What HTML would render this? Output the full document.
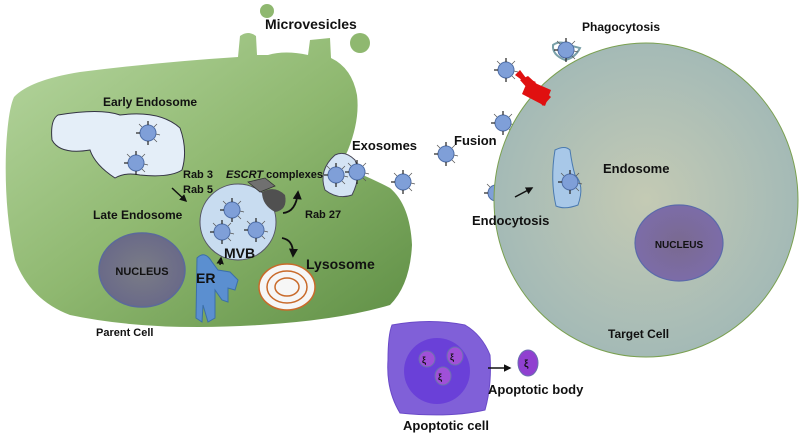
<!DOCTYPE html>
<html><head><meta charset="utf-8"><style>
html,body{margin:0;padding:0;background:#fff}
svg text{font-family:"Liberation Sans",sans-serif;font-weight:bold;fill:#111}
</style></head><body>
<svg width="800" height="435" viewBox="0 0 800 435" xmlns="http://www.w3.org/2000/svg">
<defs>
<linearGradient id="gp" x1="0" y1="0" x2="1" y2="1">
<stop offset="0" stop-color="#b6d6a0"/><stop offset="0.5" stop-color="#8fb870"/><stop offset="1" stop-color="#5f8f45"/></linearGradient>
<radialGradient id="gt" cx="0.5" cy="0.5" r="0.5"><stop offset="0" stop-color="#c4cab4"/><stop offset="1" stop-color="#a4bab6"/></radialGradient>
<radialGradient id="gn" cx="0.5" cy="0.5" r="0.5"><stop offset="0" stop-color="#7a7c86"/><stop offset="1" stop-color="#6a6a88"/></radialGradient>
<radialGradient id="gn2" cx="0.5" cy="0.5" r="0.5"><stop offset="0" stop-color="#7a6a90"/><stop offset="1" stop-color="#7c6ca8"/></radialGradient>
<marker id="ar" viewBox="0 0 10 10" refX="8" refY="5" markerWidth="5" markerHeight="5" orient="auto"><path d="M0,0L10,5L0,10z" fill="#111"/></marker>
<g id="p">
<circle r="8" fill="#7f9fd8" stroke="#4f6fa8" stroke-width="1"/>
<g stroke="#222" stroke-width="1.2"><line x1="0" y1="-8" x2="0" y2="-12"/><line x1="-8" y1="0" x2="-12" y2="0"/><line x1="0" y1="8" x2="0" y2="12"/></g>
<g stroke="#555" stroke-width="0.7"><line x1="6" y1="-6" x2="9" y2="-9"/><line x1="-6" y1="-6" x2="-9" y2="-9"/><line x1="6" y1="6" x2="9" y2="9"/><line x1="8" y1="1" x2="12" y2="2"/></g>
</g>
</defs>
<!-- microvesicles -->
<circle cx="267" cy="11" r="7" fill="#8fb870"/>
<circle cx="360" cy="43" r="10" fill="#8fb870"/>
<!-- parent cell -->
<path d="M14,97 Q30,80 80,72 Q160,62 238,57 L240,36 Q248,30 256,36 L257,55 L268,55 Q285,50 308,55 L310,40 L330,38 L331,58 Q352,68 357,95 Q360,120 348,150 Q342,162 345,168 Q365,175 390,188 Q410,205 412,245 Q410,285 390,305 Q340,320 260,325 Q150,332 70,315 Q30,300 15,260 Q4,210 6,150 Q8,110 14,97 Z" fill="url(#gp)"/>
<!-- early endosome -->
<path d="M58,115 Q100,108 120,115 Q160,110 180,128 Q188,150 182,170 Q170,178 140,175 Q125,172 115,178 Q95,165 90,150 Q60,155 52,140 Q50,120 58,115 Z" fill="#e4eef8" stroke="#334" stroke-width="1"/>
<use href="#p" x="148" y="133"/><use href="#p" x="136" y="163"/>
<!-- MVB -->
<circle cx="238" cy="222" r="38" fill="#c8dcf0" stroke="#556" stroke-width="1"/>
<use href="#p" x="232" y="210"/><use href="#p" x="222" y="232"/><use href="#p" x="256" y="230"/>
<path d="M248,182 L265,178 L275,186 L260,192 Z" fill="#707070" stroke="#333" stroke-width="0.8"/>
<path d="M262,192 Q275,185 285,195 Q288,210 275,212 Q262,205 262,192 Z" fill="#505050"/>
<!-- exosome vesicle -->
<path d="M335,155 Q345,150 355,160 Q362,175 352,195 Q338,200 325,190 Q318,170 335,155 Z" fill="#d4e4f4" stroke="#445" stroke-width="1"/>
<use href="#p" x="336" y="175"/><use href="#p" x="357" y="172"/>
<!-- nucleus parent -->
<ellipse cx="142" cy="270" rx="43" ry="37" fill="url(#gn)" stroke="#5b6a9a" stroke-width="1.5"/>
<text x="142" y="275" text-anchor="middle" font-size="11">NUCLEUS</text>
<!-- ER -->
<path d="M197,258 Q205,250 212,262 L218,270 L230,272 L238,280 L235,290 L228,288 L228,302 L222,300 L215,290 L215,318 L208,322 L203,305 L202,322 L196,318 Z" fill="#5b8fd0" stroke="#3b6fa8" stroke-width="1"/>
<!-- lysosome -->
<ellipse cx="287" cy="287" rx="28" ry="23" fill="#f6f6f6" stroke="#c96a2a" stroke-width="1.5"/>
<ellipse cx="287" cy="287" rx="20" ry="16" fill="none" stroke="#c96a2a" stroke-width="1.5"/>
<ellipse cx="287" cy="287" rx="12" ry="9" fill="none" stroke="#c96a2a" stroke-width="1.5"/>
<!-- arrows -->
<line x1="172" y1="188" x2="186" y2="201" stroke="#111" stroke-width="1.5" marker-end="url(#ar)"/>
<path d="M283,213 Q296,212 298,192" fill="none" stroke="#111" stroke-width="1.8" marker-end="url(#ar)"/>
<path d="M282,238 Q294,240 293,256" fill="none" stroke="#111" stroke-width="1.8" marker-end="url(#ar)"/>
<line x1="220" y1="265" x2="221" y2="258" stroke="#111" stroke-width="1.5" marker-end="url(#ar)"/>
<!-- texts parent -->
<text x="265" y="29" font-size="14">Microvesicles</text>
<text x="103" y="106" font-size="12">Early Endosome</text>
<text x="183" y="178" font-size="11">Rab 3</text>
<text x="183" y="193" font-size="11">Rab 5</text>
<text x="93" y="219" font-size="12">Late Endosome</text>
<text x="226" y="178" font-size="11"><tspan font-style="italic">ESCRT</tspan> complexes</text>
<text x="305" y="218" font-size="11">Rab 27</text>
<text x="224" y="258" font-size="14">MVB</text>
<text x="196" y="283" font-size="14">ER</text>
<text x="306" y="269" font-size="14">Lysosome</text>
<text x="352" y="150" font-size="13">Exosomes</text>
<text x="96" y="336" font-size="11">Parent Cell</text>
<!-- free particles -->
<use href="#p" x="403" y="182"/><use href="#p" x="446" y="154"/><use href="#p" x="503" y="123"/><use href="#p" x="496" y="193"/>
<text x="454" y="145" font-size="13">Fusion</text>
<!-- target cell -->
<ellipse cx="646" cy="200" rx="152" ry="157" fill="url(#gt)" stroke="#7aa050" stroke-width="1"/>
<path d="M553,45 Q560,40 568,45 L580,48 Q575,58 565,60 Q552,55 553,45 Z" fill="none" stroke="#7aa0a8" stroke-width="2"/>
<use href="#p" x="566" y="50"/>
<use href="#p" x="506" y="70"/>
<path d="M515,75 L520,70 L526,78 L536,82 L530,86 Z" fill="#e01010"/>
<path d="M520,80 L528,76 L551,97 L543,106 Z" fill="#e01010"/>
<path d="M528,80 L551,90 L545,106 L522,94 Z" fill="#e01010"/>
<text x="582" y="31" font-size="12">Phagocytosis</text>
<path d="M555,150 Q565,145 570,150 Q572,165 575,175 Q585,185 578,205 Q565,210 556,206 Q550,180 555,150 Z" fill="#a8c8e8" stroke="#4a7ab0" stroke-width="1"/>
<use href="#p" x="570" y="182"/>
<line x1="515" y1="197" x2="532" y2="188" stroke="#111" stroke-width="1.5" marker-end="url(#ar)"/>
<text x="603" y="173" font-size="13">Endosome</text>
<text x="472" y="225" font-size="13">Endocytosis</text>
<ellipse cx="679" cy="243" rx="44" ry="38" fill="url(#gn2)" stroke="#5b6aaa" stroke-width="1.2"/>
<text x="679" y="248" text-anchor="middle" font-size="10">NUCLEUS</text>
<text x="608" y="338" font-size="12">Target Cell</text>
<!-- apoptotic -->
<path d="M392,325 Q430,318 465,325 Q482,335 490,355 Q492,385 485,410 Q450,418 400,413 Q386,390 388,360 Q388,335 392,325 Z" fill="#8060d8" stroke="#6a4ac8" stroke-width="1"/>
<circle cx="437" cy="371" r="33" fill="#6a40d8"/>
<ellipse cx="427" cy="359" rx="8" ry="8" fill="#a050d8" stroke="#6a70b0"/>
<ellipse cx="455" cy="356" rx="8" ry="9" fill="#a050d8" stroke="#6a70b0"/>
<ellipse cx="443" cy="376" rx="8" ry="9" fill="#a050d8" stroke="#6a70b0"/>
<text x="422" y="363" font-size="9">ξ</text><text x="450" y="360" font-size="9">ξ</text><text x="438" y="380" font-size="9">ξ</text>
<line x1="488" y1="368" x2="510" y2="368" stroke="#111" stroke-width="1.5" marker-end="url(#ar)"/>
<ellipse cx="528" cy="363" rx="10" ry="13" fill="#9040d0" stroke="#6a70b0"/>
<text x="524" y="367" font-size="10">ξ</text>
<text x="488" y="394" font-size="13">Apoptotic body</text>
<text x="403" y="430" font-size="13">Apoptotic cell</text>
</svg>
</body></html>
